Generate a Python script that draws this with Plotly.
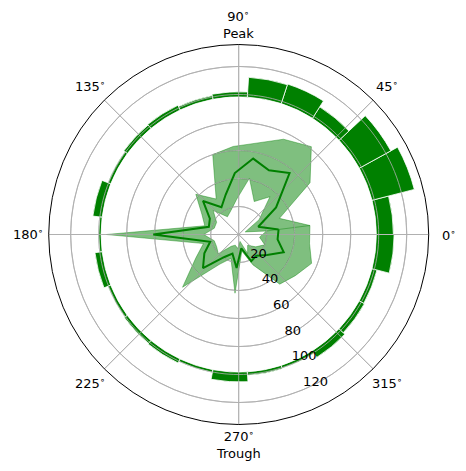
import math
import plotly.graph_objects as go

# ---- data ----
phase_deg = [7.2, 21.6, 36.0, 50.4, 64.8, 79.2, 93.6, 108.0, 122.4, 136.8, 151.2, 165.6, 180.0,
             194.4, 208.8, 223.2, 237.6, 252.0, 266.4, 280.8, 295.2, 309.6, 324.0, 338.4, 352.8]
mean_rate = [28.7, 15, 33, 57, 50.7, 55.2, 44, 30, 23, 35, 23.5, 22, 61,
             21, 28, 35, 19, 14.4, 24, 10, 21, 19.7, 25, 34.6, 28]
upper_rate = [51.3, 31.3, 63, 81.4, 75.2, 66.4, 63, 60, 30, 42, 30, 25, 94.5,
              26, 35, 55, 25, 18, 42, 12, 24, 46, 50, 56, 51]
lower_rate = [20, 5, 18, 35, 26, 41, 25, 18, 15, 25, 18, 18, 25,
              18, 18, 20, 10, 8, 10, 5, 15, 10, 15, 20, 15]
# outer ring histogram: top radius of each 14.4-degree bin
hist_top = [110.5, 129.5, 124, 108, 113, 112.5, 102, 101, 102, 101.5, 100.5, 105, 100,
            103.5, 100.5, 101, 101.5, 100.3, 105.3, 100.8, 100.5, 104, 102.5, 102, 111]
ring_base = 98.3
bin_width = 14.4
r_ticks = [20, 40, 60, 80, 100, 120]
ang_ticks = [0, 45, 90, 135, 180, 225, 270, 315]
ang_labels = ["0<sup>∘</sup>", "45<sup>∘</sup>", "90<sup>∘</sup><br>Peak", "135<sup>∘</sup>",
              "180<sup>∘</sup>", "225<sup>∘</sup>", "270<sup>∘</sup><br>Trough", "315<sup>∘</sup>"]
r_max = 135.7

GREEN = "#008000"
GRID = "#b0b0b0"

# figure geometry (page has an 8px body margin)
W, H = 458, 463
cx, cy, R = 230.7, 226.5, 190.0   # circle centre / radius in figure px
dom_x = [(cx - R) / W, (cx + R) / W]
dom_y = [(H - cy - R) / H, (H - cy + R) / H]
label_gap = 20.0                  # distance of angle labels beyond the circle, px

fig = go.Figure()

# histogram ring
fig.add_trace(go.Barpolar(
    r=[t - ring_base for t in hist_top], theta=phase_deg, base=ring_base,
    width=bin_width, marker=dict(color=GREEN, line=dict(color="white", width=0.8)),
    hoverinfo="skip", showlegend=False))

# band
th_band = phase_deg + [phase_deg[0]] + [phase_deg[0]] + phase_deg[::-1]
r_band = upper_rate + [upper_rate[0]] + [lower_rate[0]] + lower_rate[::-1]
fig.add_trace(go.Scatterpolar(
    r=r_band, theta=th_band, mode="lines", fill="toself",
    fillcolor="rgba(0,128,0,0.5)", line=dict(color="rgba(0,128,0,0.5)", width=0.8),
    hoverinfo="skip", showlegend=False))

# grid overlay (drawn above patches like matplotlib)
circ_theta = list(range(0, 361, 2))
for t in r_ticks:
    fig.add_trace(go.Scatterpolar(r=[t] * len(circ_theta), theta=circ_theta, mode="lines",
                                  line=dict(color=GRID, width=0.8), hoverinfo="skip", showlegend=False))
for a in ang_ticks:
    fig.add_trace(go.Scatterpolar(r=[0, r_max], theta=[a, a], mode="lines",
                                  line=dict(color=GRID, width=0.8), hoverinfo="skip", showlegend=False))

# mean line
fig.add_trace(go.Scatterpolar(
    r=mean_rate + [mean_rate[0]], theta=phase_deg + [phase_deg[0]], mode="lines",
    line=dict(color=GREEN, width=2), hoverinfo="skip", showlegend=False))

# radial tick labels: along -66 deg, shifted a few pixels up-right (like matplotlib)
px_per_unit = R / r_max
lab_ang = math.radians(-66)
off_x, off_y = 8.5, 5.5
lab_r, lab_th = [], []
for t in r_ticks:
    vx = t * px_per_unit * math.cos(lab_ang) + off_x
    vy = t * px_per_unit * math.sin(lab_ang) + off_y
    lab_r.append(math.hypot(vx, vy) / px_per_unit)
    lab_th.append(math.degrees(math.atan2(vy, vx)))
fig.add_trace(go.Scatterpolar(
    r=lab_r, theta=lab_th, mode="text", text=[str(t) for t in r_ticks],
    textposition="middle center", textfont=dict(size=13, color="black", family="DejaVu Sans"),
    hoverinfo="skip", showlegend=False, cliponaxis=False))

# angle labels, centred just outside the circle
annotations = []
for a, txt in zip(ang_ticks, ang_labels):
    rr = R + label_gap
    x = (cx + rr * math.cos(math.radians(a))) / W
    y = (H - cy + rr * math.sin(math.radians(a))) / H
    annotations.append(dict(x=x, y=y, xref="paper", yref="paper", text=txt, showarrow=False,
                            xanchor="center", yanchor="middle", align="center",
                            font=dict(size=13, color="black", family="DejaVu Sans")))

fig.update_layout(
    width=W, height=H, margin=dict(l=0, r=0, t=0, b=0),
    paper_bgcolor="white", showlegend=False,
    font=dict(family="DejaVu Sans", size=13, color="black"),
    annotations=annotations,
    polar=dict(
        domain=dict(x=dom_x, y=dom_y),
        bgcolor="white",
        radialaxis=dict(range=[0, r_max], tickvals=r_ticks, showticklabels=False,
                        showline=False, ticks="",
                        showgrid=True, gridcolor=GRID, gridwidth=0.8),
        angularaxis=dict(rotation=0, direction="counterclockwise", tickvals=ang_ticks,
                         showticklabels=False, showline=True, linecolor="black", linewidth=1,
                         ticks="", showgrid=True, gridcolor=GRID, gridwidth=0.8),
    ),
)

fig.write_html("out.html")
